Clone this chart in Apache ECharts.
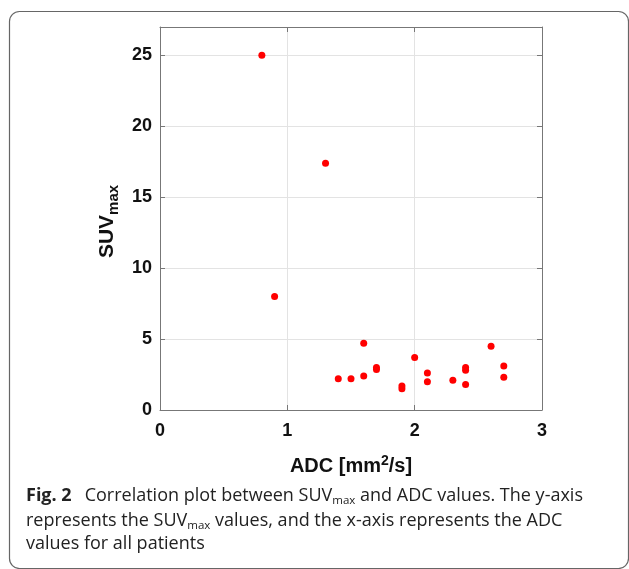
<!DOCTYPE html>
<html>
<head>
<meta charset="utf-8">
<script src="https://cdn.jsdelivr.net/npm/echarts@6/dist/echarts.min.js"></script>
<style>
html,body{margin:0;padding:0;background:#fff;}
#c{width:629px;height:569px;}
</style>
</head>
<body>
<div id="c"></div>
<script>
// ADC values [mm^2/s]
const adc = [0.8, 1.3, 0.9, 1.4, 1.5, 1.6, 1.6, 1.7, 1.7, 1.9, 1.9, 2.0, 2.1, 2.1, 2.3, 2.4, 2.4, 2.4, 2.6, 2.7, 2.7];
// SUVmax values
const suv = [25.0, 17.4, 8.0, 2.2, 2.2, 4.7, 2.4, 3.0, 2.85, 1.7, 1.5, 3.7, 2.6, 2.0, 2.1, 3.0, 2.8, 1.8, 4.5, 3.1, 2.3];
const xTicks = [0, 1, 2, 3];
const yTicks = [0, 5, 10, 15, 20, 25];

const points = adc.map((a, i) => [a, suv[i]]);

const chart = echarts.init(document.getElementById('c'), null, {renderer: 'canvas'});
const tickFont = {fontFamily: 'Liberation Sans', fontWeight: 'bold', fontSize: 18, color: '#111'};
const capFont = 'Open Sans';
const capRich = {
  b: {fontFamily: capFont, fontWeight: 'bold', fontSize: 18, fill: '#222', lineHeight: 25, padding: [0, 13, 0, 0]},
  n: {fontFamily: capFont, fontSize: 18, fill: '#222', lineHeight: 25},
  s: {fontFamily: capFont, fontSize: 11.5, fill: '#222', padding: [10, 0, 0, 0], lineHeight: 25}
};

chart.setOption({
  animation: false,
  backgroundColor: '#fff',
  grid: {left: 160, top: 27, right: 87, bottom: 159, show: false},
  xAxis: [{
    type: 'value', min: 0, max: 3, interval: 1,
    axisLine: {show: true, onZero: false, lineStyle: {color: '#777', width: 1}},
    axisTick: {show: true, inside: true, length: 5, lineStyle: {color: '#777'}},
    axisLabel: Object.assign({margin: 12, formatter: v => xTicks.includes(v) ? String(v) : ''}, tickFont),
    splitLine: {show: true, lineStyle: {color: '#e3e3e3', width: 1}},
    name: '{t|ADC [mm}{s|2}{t|/s]}',
    nameLocation: 'middle', nameGap: 44,
    nameTextStyle: {rich: {
      t: {fontFamily: 'Liberation Sans', fontWeight: 'bold', fontSize: 20, color: '#111'},
      s: {fontFamily: 'Liberation Sans', fontWeight: 'bold', fontSize: 14, color: '#111', padding: [0, 0, 10, 0]}
    }}
  }, {
    type: 'value', min: 0, max: 3, interval: 1, position: 'top',
    axisLine: {show: true, onZero: false, lineStyle: {color: '#777', width: 1}},
    axisTick: {show: true, inside: true, length: 5, lineStyle: {color: '#777'}},
    axisLabel: {show: false}, splitLine: {show: false}
  }],
  yAxis: [{
    type: 'value', min: 0, max: 27, interval: 5,
    axisLine: {show: true, onZero: false, lineStyle: {color: '#777', width: 1}},
    axisTick: {show: true, inside: true, length: 5, lineStyle: {color: '#777'}},
    axisLabel: Object.assign({margin: 8, formatter: v => yTicks.includes(v) ? String(v) : ''}, tickFont),
    splitLine: {show: true, lineStyle: {color: '#e3e3e3', width: 1}},
    name: '{t|SUV}{s|max}',
    nameLocation: 'middle', nameGap: 38, nameRotate: 90,
    nameTextStyle: {padding: [0, 6, 0, 0], rich: {
      t: {fontFamily: 'Liberation Sans', fontWeight: 'bold', fontSize: 21, color: '#111'},
      s: {fontFamily: 'Liberation Sans', fontWeight: 'bold', fontSize: 15, color: '#111', padding: [13, 0, 0, 0]}
    }}
  }, {
    type: 'value', min: 0, max: 27, interval: 5, position: 'right',
    axisLine: {show: true, onZero: false, lineStyle: {color: '#777', width: 1}},
    axisTick: {show: true, inside: true, length: 5, lineStyle: {color: '#777'}},
    axisLabel: {show: false}, splitLine: {show: false}
  }],
  series: [{
    type: 'scatter', xAxisIndex: 0, yAxisIndex: 0,
    data: points, symbol: 'circle', symbolSize: 7,
    itemStyle: {color: '#ff0000', opacity: 1}
  }],
  graphic: [
    {type: 'rect', shape: {x: 9.5, y: 11.5, width: 619, height: 557, r: 10}, silent: true,
     style: {fill: 'none', stroke: '#666', lineWidth: 1.2}},
    {type: 'text', left: 26, top: 485, style: {
      text: '{b|Fig. 2}{n|Correlation plot between SUV}{s|max}{n| and ADC values. The y-axis}',
      rich: capRich
    }},
    {type: 'text', left: 26, top: 510, style: {
      text: '{n|represents the SUV}{s|max}{n| values, and the x-axis represents the ADC}',
      rich: capRich
    }},
    {type: 'text', left: 26, top: 535, style: {
      text: '{n|values for all patients}',
      rich: capRich
    }}
  ]
});
</script>
</body>
</html>
